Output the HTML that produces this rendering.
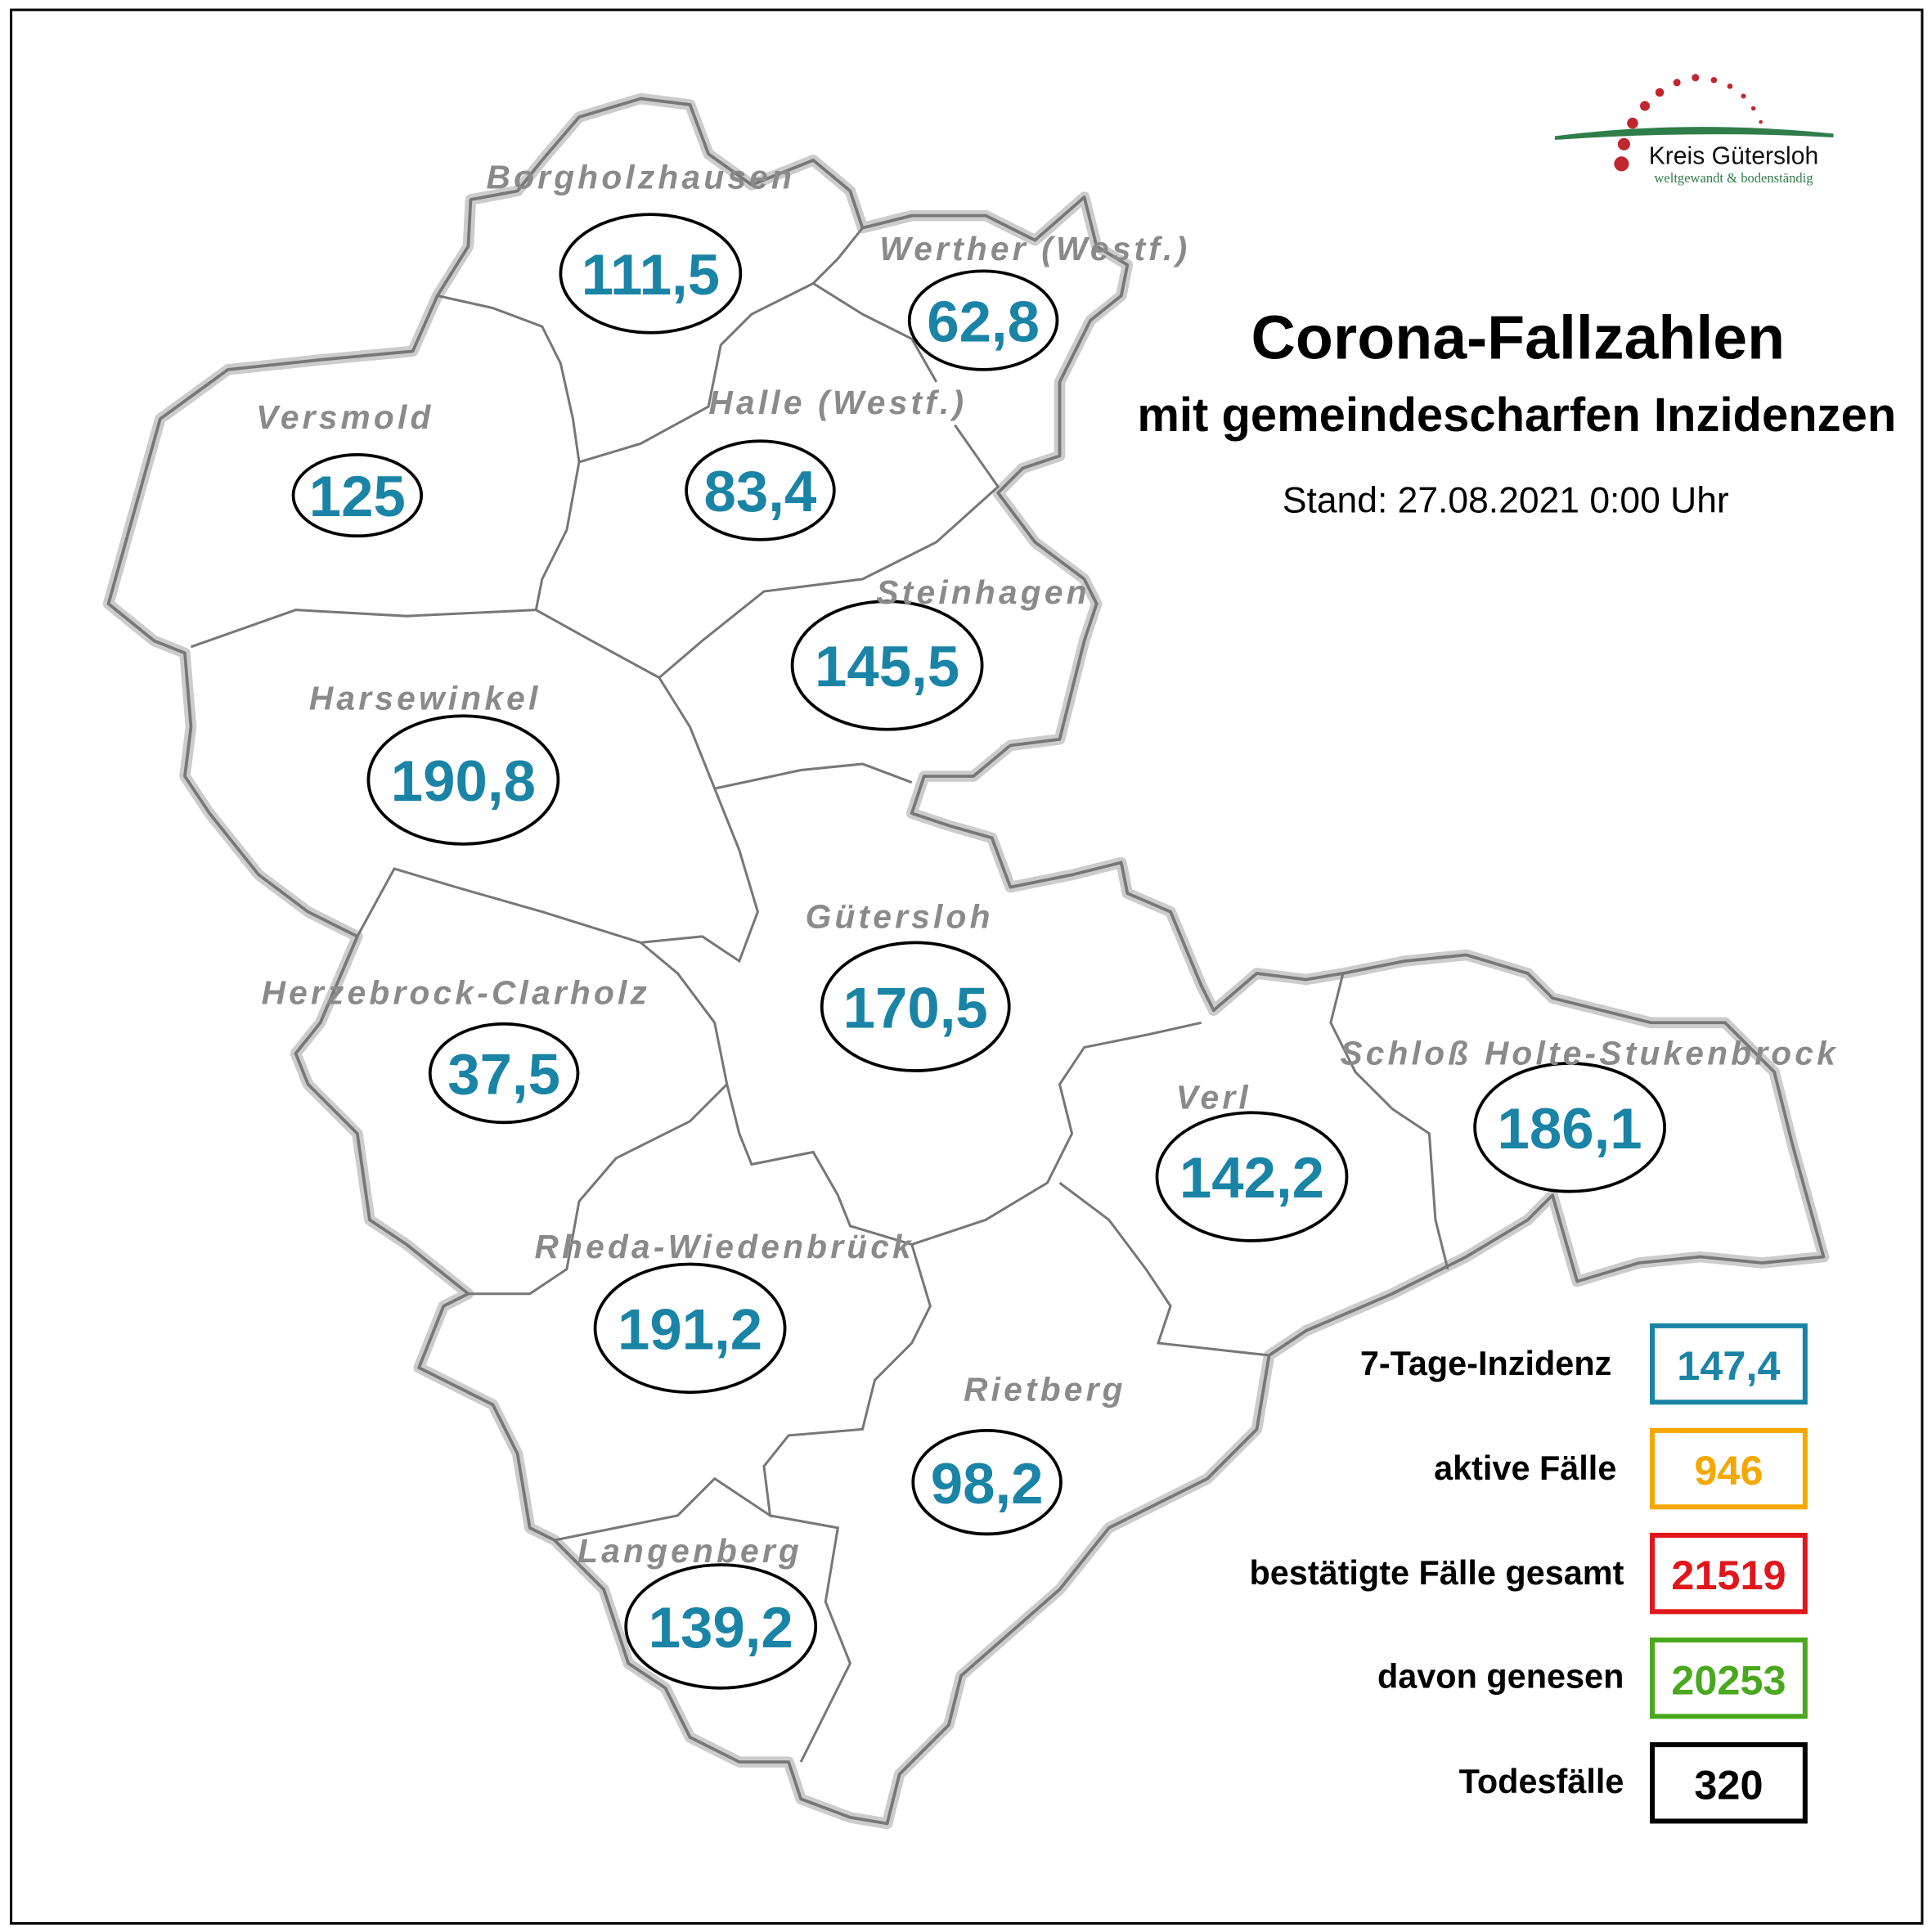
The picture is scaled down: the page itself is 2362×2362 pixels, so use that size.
<!DOCTYPE html>
<html><head><meta charset="utf-8"><style>
html,body{margin:0;padding:0;background:#fff}
svg{display:block}
.lab{font-family:"Liberation Sans",sans-serif;font-weight:bold;font-style:italic;fill:#8a8a8a;font-size:27px;letter-spacing:2.8px;text-anchor:middle}
.num{font-family:"Liberation Sans",sans-serif;font-weight:bold;fill:#1a84a6;font-size:47px;text-anchor:middle}
.ell{fill:#fff;stroke:#000;stroke-width:2.5}
.leg{font-family:"Liberation Sans",sans-serif;font-weight:bold;font-size:27.5px;text-anchor:end;fill:#000}
.lv{font-family:"Liberation Sans",sans-serif;font-weight:bold;font-size:33.5px;text-anchor:middle}
.inner{fill:none;stroke:#777;stroke-width:2}
</style></head><body>
<svg width="2362" height="2362" viewBox="0 0 1568 1568" xmlns="http://www.w3.org/2000/svg">
<rect x="0" y="0" width="1568" height="1568" fill="#fff"/>
<rect x="9" y="8" width="1551" height="1553" fill="none" stroke="#000" stroke-width="2"/>
<path id="outline" d="M88,490 L130,340 L185,300 L260,292 L335,285 L355,240 L380,200 L382,162 L420,155 L440,130 L470,95 L520,80 L560,85 L575,125 L610,150 L660,130 L690,155 L700,185 L740,175 L800,175 L840,195 L880,160 L890,200 L915,215 L910,240 L885,260 L860,310 L860,370 L830,380 L810,400 L840,440 L880,470 L890,490 L880,520 L870,560 L860,600 L820,605 L790,630 L750,630 L740,660 L770,670 L805,680 L820,720 L870,710 L910,700 L915,725 L950,740 L975,800 L985,820 L1020,790 L1060,795 L1090,790 L1140,780 L1190,775 L1240,790 L1260,810 L1340,830 L1400,830 L1440,870 L1455,930 L1480,1020 L1430,1025 L1380,1020 L1330,1025 L1280,1040 L1260,970 L1240,990 L1190,1020 L1130,1050 L1060,1080 L1030,1100 L1020,1160 L980,1200 L900,1240 L860,1290 L780,1360 L770,1400 L730,1440 L720,1480 L690,1475 L650,1460 L640,1430 L600,1430 L560,1410 L540,1370 L510,1350 L490,1290 L450,1250 L430,1240 L420,1180 L400,1140 L340,1110 L360,1060 L380,1050 L330,1010 L300,990 L290,920 L250,880 L240,855 L260,830 L290,760 L250,740 L210,710 L170,660 L150,630 L155,590 L150,530 L125,520 Z" fill="#fff" stroke="#ccc" stroke-width="9" stroke-linejoin="round"/>
<path d="M88,490 L130,340 L185,300 L260,292 L335,285 L355,240 L380,200 L382,162 L420,155 L440,130 L470,95 L520,80 L560,85 L575,125 L610,150 L660,130 L690,155 L700,185 L740,175 L800,175 L840,195 L880,160 L890,200 L915,215 L910,240 L885,260 L860,310 L860,370 L830,380 L810,400 L840,440 L880,470 L890,490 L880,520 L870,560 L860,600 L820,605 L790,630 L750,630 L740,660 L770,670 L805,680 L820,720 L870,710 L910,700 L915,725 L950,740 L975,800 L985,820 L1020,790 L1060,795 L1090,790 L1140,780 L1190,775 L1240,790 L1260,810 L1340,830 L1400,830 L1440,870 L1455,930 L1480,1020 L1430,1025 L1380,1020 L1330,1025 L1280,1040 L1260,970 L1240,990 L1190,1020 L1130,1050 L1060,1080 L1030,1100 L1020,1160 L980,1200 L900,1240 L860,1290 L780,1360 L770,1400 L730,1440 L720,1480 L690,1475 L650,1460 L640,1430 L600,1430 L560,1410 L540,1370 L510,1350 L490,1290 L450,1250 L430,1240 L420,1180 L400,1140 L340,1110 L360,1060 L380,1050 L330,1010 L300,990 L290,920 L250,880 L240,855 L260,830 L290,760 L250,740 L210,710 L170,660 L150,630 L155,590 L150,530 L125,520 Z" fill="none" stroke="#777" stroke-width="2.5" stroke-linejoin="round"/>
<polyline class="inner" points="355,240 400,250 440,265 455,295 465,340 470,375 460,430 440,470 435,495"/>
<polyline class="inner" points="155,525 240,495 330,500 435,495 480,520 535,550"/>
<polyline class="inner" points="470,375 520,360 575,330 585,280 610,255 660,230 700,255 740,275 760,310"/>
<polyline class="inner" points="660,230 680,210 700,185"/>
<polyline class="inner" points="775,345 810,395 760,440 700,470 620,480 570,520 535,550"/>
<polyline class="inner" points="535,550 560,590 580,640 600,690 615,740 600,780 570,760 520,765 440,740 370,720 320,705 290,760"/>
<polyline class="inner" points="580,640 650,625 700,620 740,635"/>
<polyline class="inner" points="520,765 550,790 580,830 590,880 600,920 610,945 660,935 680,970 690,995 740,1010"/>
<polyline class="inner" points="590,880 560,910 500,940 470,975 460,1030 430,1050 380,1050"/>
<polyline class="inner" points="740,1010 800,990 850,960 870,920 860,880 880,850 930,840 975,830"/>
<polyline class="inner" points="740,1010 755,1060 740,1090 710,1120 700,1160 640,1165 620,1190 625,1230 580,1200 550,1230 500,1240 450,1250"/>
<polyline class="inner" points="625,1230 680,1240 670,1300 690,1350 670,1390 650,1430"/>
<polyline class="inner" points="860,960 900,990 930,1030 950,1060 940,1090 1030,1100"/>
<polyline class="inner" points="1090,790 1080,830 1100,870 1110,880 1130,900 1160,920 1165,990 1175,1030"/>
<ellipse class="ell" cx="528" cy="222" rx="73" ry="48"/>
<ellipse class="ell" cx="798" cy="260" rx="60" ry="40"/>
<ellipse class="ell" cx="290" cy="402" rx="52" ry="33"/>
<ellipse class="ell" cx="617" cy="398" rx="60" ry="40"/>
<ellipse class="ell" cx="720" cy="540" rx="77" ry="52"/>
<ellipse class="ell" cx="376" cy="633" rx="77" ry="52"/>
<ellipse class="ell" cx="743" cy="817" rx="76" ry="52"/>
<ellipse class="ell" cx="409" cy="871" rx="60" ry="40"/>
<ellipse class="ell" cx="1016" cy="955" rx="77" ry="52"/>
<ellipse class="ell" cx="1274" cy="915" rx="77" ry="52"/>
<ellipse class="ell" cx="560" cy="1078" rx="77" ry="52"/>
<ellipse class="ell" cx="801" cy="1203" rx="60" ry="42"/>
<ellipse class="ell" cx="585" cy="1320" rx="77" ry="50"/>
<text class="lab" x="520" y="153">Borgholzhausen</text>
<text class="lab" x="840" y="211">Werther (Westf.)</text>
<text class="lab" x="280" y="348">Versmold</text>
<text class="lab" x="680" y="336">Halle (Westf.)</text>
<text class="lab" x="798" y="490">Steinhagen</text>
<text class="lab" x="345" y="576">Harsewinkel</text>
<text class="lab" x="730" y="753">Gütersloh</text>
<text class="lab" x="370" y="815">Herzebrock-Clarholz</text>
<text class="lab" x="985" y="900">Verl</text>
<text class="lab" x="1290" y="864">Schloß Holte-Stukenbrock</text>
<text class="lab" x="588" y="1021">Rheda-Wiedenbrück</text>
<text class="lab" x="848" y="1137">Rietberg</text>
<text class="lab" x="560" y="1268">Langenberg</text>
<text class="num" x="528" y="239">111,5</text>
<text class="num" x="798" y="277">62,8</text>
<text class="num" x="290" y="419">125</text>
<text class="num" x="617" y="415">83,4</text>
<text class="num" x="720" y="557">145,5</text>
<text class="num" x="376" y="650">190,8</text>
<text class="num" x="743" y="834">170,5</text>
<text class="num" x="409" y="888">37,5</text>
<text class="num" x="1016" y="972">142,2</text>
<text class="num" x="1274" y="932">186,1</text>
<text class="num" x="560" y="1095">191,2</text>
<text class="num" x="801" y="1220">98,2</text>
<text class="num" x="585" y="1337">139,2</text>
<text x="1232" y="291" font-family="Liberation Sans,sans-serif" font-weight="bold" font-size="50" text-anchor="middle">Corona-Fallzahlen</text>
<text x="1231" y="350" font-family="Liberation Sans,sans-serif" font-weight="bold" font-size="38.5" text-anchor="middle">mit gemeindescharfen Inzidenzen</text>
<text x="1222" y="416" font-family="Liberation Sans,sans-serif" font-size="29.5" text-anchor="middle">Stand: 27.08.2021 0:00 Uhr</text>
<path d="M1262,112 Q1370,98 1488,110 Q1380,104 1262,112 Z" fill="#2f7d4a" stroke="#2f7d4a" stroke-width="3"/>
<g fill="#c0262d">
<circle cx="1316" cy="133" r="6"/><circle cx="1318" cy="117" r="5"/><circle cx="1325" cy="100" r="4.5"/><circle cx="1335" cy="86" r="4"/><circle cx="1347" cy="75" r="3.5"/><circle cx="1361" cy="67" r="3"/><circle cx="1376" cy="63" r="3"/><circle cx="1391" cy="65" r="2.5"/><circle cx="1404" cy="70" r="2.2"/><circle cx="1415" cy="78" r="2"/><circle cx="1423" cy="88" r="1.8"/><circle cx="1429" cy="99" r="1.5"/>
</g>
<text x="1407" y="133" font-family="Liberation Sans,sans-serif" font-size="20" fill="#111" text-anchor="middle">Kreis Gütersloh</text>
<text x="1407" y="148" font-family="Liberation Serif,serif" font-size="11" fill="#2f7d4a" text-anchor="middle">weltgewandt &amp; bodenständig</text>
<text class="leg" x="1308" y="1116">7-Tage-Inzidenz</text>
<text class="leg" x="1312" y="1201">aktive Fälle</text>
<text class="leg" x="1318" y="1286">bestätigte Fälle gesamt</text>
<text class="leg" x="1318" y="1370">davon genesen</text>
<text class="leg" x="1318" y="1455">Todesfälle</text>
<rect x="1341" y="1076" width="124" height="62" fill="none" stroke="#1a84a6" stroke-width="4"/>
<rect x="1341" y="1161" width="124" height="62" fill="none" stroke="#f5a800" stroke-width="4"/>
<rect x="1341" y="1246" width="124" height="62" fill="none" stroke="#e0161b" stroke-width="4"/>
<rect x="1341" y="1331" width="124" height="62" fill="none" stroke="#4aa81e" stroke-width="4"/>
<rect x="1341" y="1416" width="124" height="62" fill="none" stroke="#000" stroke-width="4"/>
<text class="lv" x="1403" y="1120" fill="#1a84a6">147,4</text>
<text class="lv" x="1403" y="1205" fill="#f5a800">946</text>
<text class="lv" x="1403" y="1290" fill="#e0161b">21519</text>
<text class="lv" x="1403" y="1375" fill="#4aa81e">20253</text>
<text class="lv" x="1403" y="1460" fill="#000">320</text>
</svg>
</body></html>
